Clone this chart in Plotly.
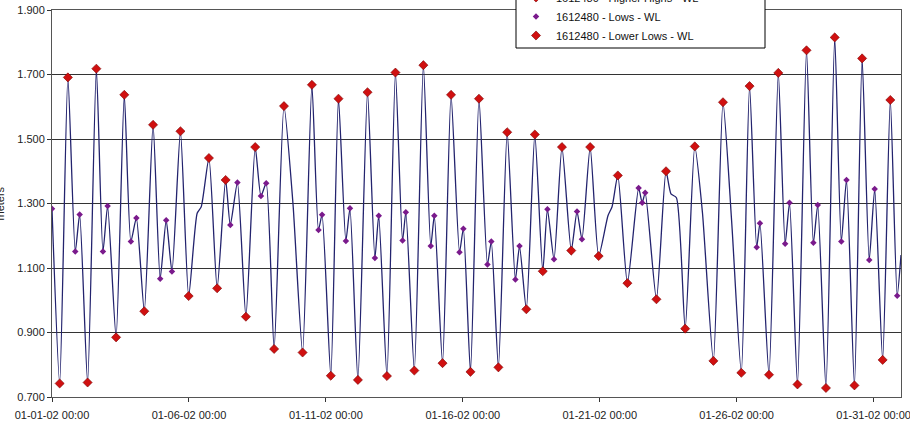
import pandas as pd
import plotly.graph_objects as go

START = pd.Timestamp("2002-01-01 00:00")

# Days since 2002-01-01 00:00 and water level (meters)
hh_days = [0.58, 1.62, 2.64, 3.69, 4.69, 5.73, 6.34, 7.42, 8.47, 9.49, 10.46, 11.52,
           12.54, 13.56, 14.57, 15.59, 16.62, 17.63, 18.62, 19.65, 20.66, 22.42,
           23.47, 24.50, 25.47, 26.52, 27.55, 28.58, 29.58, 30.61]
hh_vals = [1.691, 1.718, 1.637, 1.544, 1.524, 1.441, 1.373, 1.475, 1.602, 1.668, 1.625, 1.645,
           1.706, 1.729, 1.637, 1.625, 1.521, 1.514, 1.475, 1.475, 1.387, 1.400,
           1.477, 1.614, 1.664, 1.705, 1.775, 1.815, 1.750, 1.621]

ll_days = [0.28, 1.30, 2.34, 3.37, 4.99, 6.03, 7.08, 8.11, 9.15, 10.18, 11.17, 12.23,
           13.23, 14.26, 15.28, 16.30, 17.32, 17.92, 18.96, 19.96, 21.01, 22.07,
           23.12, 24.15, 25.17, 26.18, 27.22, 28.26, 29.30, 30.33]
ll_vals = [0.742, 0.745, 0.885, 0.966, 1.013, 1.037, 0.949, 0.849, 0.838, 0.766, 0.753, 0.765,
           0.782, 0.805, 0.778, 0.792, 0.972, 1.090, 1.154, 1.137, 1.053, 1.003,
           0.912, 0.812, 0.775, 0.769, 0.739, 0.728, 0.736, 0.815]

h_days = [0.00, 1.01, 2.03, 3.08, 4.17, 6.77, 7.82, 9.86, 10.88, 11.93, 12.92, 13.96,
          15.02, 16.04, 17.07, 18.09, 19.17, 21.42, 21.66, 25.85, 26.93, 27.96, 29.01, 30.04]
h_vals = [1.284, 1.266, 1.292, 1.255, 1.248, 1.365, 1.363, 1.265, 1.285, 1.262, 1.273, 1.262,
          1.222, 1.182, 1.168, 1.282, 1.275, 1.348, 1.333, 1.239, 1.302, 1.295, 1.373, 1.345]

l_days = [0.85, 1.86, 2.88, 3.95, 4.38, 6.51, 7.63, 9.73, 10.73, 11.79, 12.80, 13.83,
          14.88, 15.90, 16.92, 18.33, 19.35, 21.55, 25.73, 26.77, 27.80, 28.82, 29.84, 30.86]
l_vals = [1.151, 1.151, 1.182, 1.067, 1.089, 1.233, 1.323, 1.218, 1.184, 1.131, 1.185, 1.168,
          1.149, 1.111, 1.064, 1.127, 1.189, 1.302, 1.164, 1.175, 1.178, 1.182, 1.125, 1.014]

stand_days = [5.30, 5.45, 8.80, 20.30, 20.45, 22.60, 22.80, 23.75, 24.82, 31.00]
stand_vals = [1.270, 1.290, 1.298, 1.262, 1.290, 1.330, 1.318, 1.272, 1.240, 1.140]

station = "1612480"


def to_time(days):
    return START + pd.to_timedelta(pd.Series(days, dtype=float), unit="D")


wl = pd.DataFrame({
    "day": hh_days + ll_days + h_days + l_days + stand_days,
    "val": hh_vals + ll_vals + h_vals + l_vals + stand_vals,
}).sort_values("day")
wl["t"] = to_time(wl["day"].tolist()).values

FONT = "Arial, 'Liberation Sans', sans-serif"
RED = "#d01010"
PURPLE = "#7a1a8c"

# plot area in pixels: x 52..901, y 10..397
def px_x(p):
    return (p - 52) / 849


def px_y(p):
    return (397 - p) / 387


fig = go.Figure()
fig.add_trace(go.Scatter(
    x=wl["t"], y=wl["val"], mode="lines", name=f"{station} - WL",
    line=dict(color="#23236e", width=1.3, shape="spline", smoothing=0.6),
))
fig.add_trace(go.Scatter(
    x=to_time(h_days), y=h_vals, mode="markers", name=f"{station} - Highs - WL",
    marker=dict(symbol="diamond", size=5, color=PURPLE, line=dict(width=0)),
))
fig.add_trace(go.Scatter(
    x=to_time(hh_days), y=hh_vals, mode="markers", name=f"{station} - Higher Highs - WL",
    marker=dict(symbol="diamond", size=7, color=RED, line=dict(width=0.6, color="#7a0000")),
))
fig.add_trace(go.Scatter(
    x=to_time(l_days), y=l_vals, mode="markers", name=f"{station} - Lows - WL",
    marker=dict(symbol="diamond", size=5, color=PURPLE, line=dict(width=0)),
))
fig.add_trace(go.Scatter(
    x=to_time(ll_days), y=ll_vals, mode="markers", name=f"{station} - Lower Lows - WL",
    marker=dict(symbol="diamond", size=7, color=RED, line=dict(width=0.6, color="#7a0000")),
))

fig.update_layout(
    width=910, height=432,
    margin=dict(l=52, r=9, t=10, b=35, autoexpand=False),
    paper_bgcolor="white", plot_bgcolor="white",
    font=dict(family=FONT, size=11, color="#222222"),
    showlegend=True,
    legend=dict(
        x=px_x(516), xanchor="left",
        y=px_y(50), yanchor="bottom",
        bgcolor="rgba(0,0,0,0)", borderwidth=0,
        font=dict(family=FONT, size=11, color="#111111"),
        itemsizing="trace", tracegroupgap=0,
    ),
    shapes=[dict(
        type="rect", xref="paper", yref="paper", layer="above",
        x0=px_x(516), x1=px_x(765), y0=px_y(48), y1=px_y(-40),
        fillcolor="white", line=dict(color="#000000", width=1),
    )],
    annotations=[dict(
        text="meters", textangle=-90, xref="paper", yref="paper",
        x=0, y=0.5, xanchor="center", yanchor="middle", xshift=-53,
        showarrow=False, font=dict(family=FONT, size=11, color="#222222"),
    )],
)

fig.update_xaxes(
    type="date", range=["2002-01-01 00:00", "2002-02-01 00:00"],
    tick0="2002-01-01", dtick=5 * 86400000, tickformat="%m-%d-%y %H:%M",
    showgrid=False, ticks="outside", ticklen=4, tickcolor="#333333",
    showline=True, linecolor="#555555", linewidth=1, mirror=True,
    zeroline=False, ticklabelstandoff=4, ticklabeloverflow="allow",
)
fig.update_yaxes(
    range=[0.7, 1.9], tick0=0.7, dtick=0.2, tickformat=".3f",
    showgrid=True, gridcolor="#333333", gridwidth=1,
    ticks="outside", ticklen=4, tickcolor="#333333",
    showline=True, linecolor="#555555", linewidth=1, mirror=True,
    zeroline=False,
)

fig.write_html("out.html")
